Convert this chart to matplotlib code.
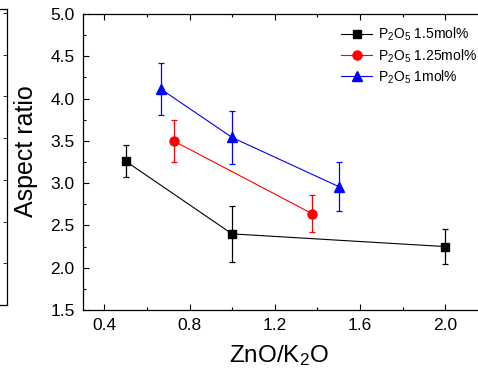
import numpy as np
import matplotlib
matplotlib.use("Agg")
from matplotlib import pyplot as plt
from matplotlib.ticker import MultipleLocator

plt.rcParams['font.family'] = ['Liberation Sans', 'DejaVu Sans']
plt.rcParams['mathtext.fontset'] = 'custom'
plt.rcParams['mathtext.rm'] = 'Liberation Sans'
plt.rcParams['mathtext.it'] = 'Liberation Sans:italic'

# data
x_15 = [0.5, 1.0, 2.0]
y_15 = [3.26, 2.40, 2.25]
e_15 = [0.19, 0.33, 0.21]

x_125 = [0.725, 1.375]
y_125 = [3.50, 2.64]
e_125 = [0.25, 0.22]

x_1 = [0.667, 1.0, 1.5]
y_1 = [4.11, 3.54, 2.96]
e_1 = [0.31, 0.31, 0.29]

labels = [r'P$_2$O$_5$ 1.5mol%', r'P$_2$O$_5$ 1.25mol%', r'P$_2$O$_5$ 1mol%']

W, H = 478, 369
fig = plt.figure(figsize=(W/100, H/100), dpi=100)

# piece of the neighbouring panel, cut off at the left edge
ax0 = fig.add_axes([-0.5, 1-305/H, 0.5+7/W, (305-9)/H])
ax0.set_ylim(0, (305-9)/41.7)
ax0.yaxis.set_major_locator(MultipleLocator(1))
ax0.yaxis.set_major_formatter(plt.NullFormatter())
ax0.set_xticks([])
ax0.yaxis.tick_right()
ax0.tick_params(axis='y', direction='in', length=3, width=0.6)
for s in ax0.spines.values():
    s.set_linewidth(0.9)

ax = fig.add_axes([83/W, 1-310/H, 1.9*213/W, (310-14)/H])

ax.errorbar(x_15, y_15, yerr=e_15, color='black', marker='s', ms=5.5,
            lw=0.8, elinewidth=0.9, capsize=2.5, capthick=0.9, label=labels[0])
ax.errorbar(x_125, y_125, yerr=e_125, color='red', marker='o', ms=6.5,
            lw=0.8, elinewidth=0.9, capsize=2.5, capthick=0.9, label=labels[1])
ax.errorbar(x_1, y_1, yerr=e_1, color='blue', marker='^', ms=7,
            lw=0.8, elinewidth=0.9, capsize=2.5, capthick=0.9, label=labels[2])

ax.set_xlim(0.3, 2.2)
ax.set_ylim(1.5, 5.0)
ax.xaxis.set_major_locator(MultipleLocator(0.4))
ax.xaxis.set_minor_locator(MultipleLocator(0.2))
ax.yaxis.set_major_locator(MultipleLocator(0.5))
ax.yaxis.set_minor_locator(MultipleLocator(0.25))
ax.tick_params(which='both', direction='in', top=True, right=False, labelsize=12.5, width=0.8, pad=6)
ax.tick_params(which='major', length=4.5)
ax.tick_params(which='minor', length=2.5)
ax.spines['right'].set_visible(False)
for s in ax.spines.values():
    s.set_linewidth(0.9)

ax.set_xlabel(r'ZnO/K$_2$O', fontsize=17.5)
ax.xaxis.set_label_coords(196/404.7, -33/296)
ax.set_ylabel('Aspect ratio', fontsize=18)
ax.yaxis.set_label_coords(-45/404.7, 159/296)

handles, labs = ax.get_legend_handles_labels()
handles = [h[0] for h in handles]
fig.legend(handles, labs, loc='upper left', bbox_to_anchor=(341/W, 1-26/H),
           frameon=False, fontsize=10, borderpad=0, borderaxespad=0,
           handlelength=2.25, handletextpad=0.4, labelspacing=0.27)

fig.savefig('out.png', dpi=100)
